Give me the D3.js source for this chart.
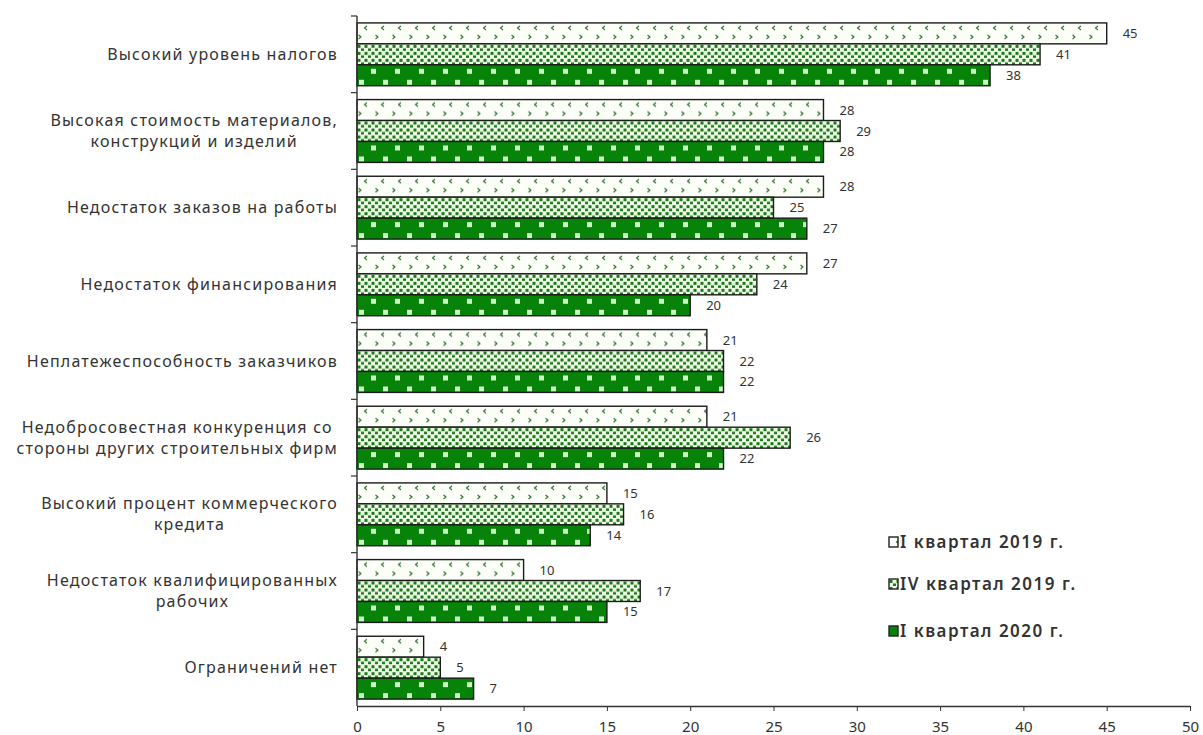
<!DOCTYPE html>
<html>
<head>
<meta charset="utf-8">
<script src="https://cdn.jsdelivr.net/npm/d3@7"></script>
<style>
  html, body { margin: 0; padding: 0; background: #ffffff; }
  svg { display: block; }
  text { font-family: "Noto Sans", "Open Sans", sans-serif; fill: #333; }
</style>
</head>
<body>
<svg id="chart" width="1203" height="735"></svg>
<script>
// Constraints on construction activity, share of firms (%)
const categories = [
  ["Высокий уровень налогов"],
  ["Высокая стоимость материалов,", "конструкций и изделий"],
  ["Недостаток заказов на работы"],
  ["Недостаток финансирования"],
  ["Неплатежеспособность заказчиков"],
  ["Недобросовестная конкуренция со", "стороны других строительных фирм"],
  ["Высокий процент коммерческого", "кредита"],
  ["Недостаток квалифицированных", "рабочих"],
  ["Ограничений нет"]
];
const seriesNames = ["I квартал 2019 г.", "IV квартал 2019 г.", "I квартал 2020 г."];
const q1_2019 = [45, 28, 28, 27, 21, 21, 15, 10, 4];
const q4_2019 = [41, 29, 25, 24, 22, 26, 16, 17, 5];
const q1_2020 = [38, 28, 27, 20, 22, 22, 14, 15, 7];
const xTicks = [0, 5, 10, 15, 20, 25, 30, 35, 40, 45, 50];

const series = [q1_2019, q4_2019, q1_2020];

const svg = d3.select("#chart");
const defs = svg.append("defs");

const plot = { left: 357, right: 1190, top: 16, bottom: 706 };

const x = d3.scaleLinear().domain([0, 50]).range([plot.left, plot.right]);
const y = d3.scaleBand().domain(d3.range(categories.length))
  .range([plot.top, plot.bottom]).paddingInner(0).paddingOuter(0);
const ySub = d3.scaleBand().domain(d3.range(series.length))
  .range([0, y.bandwidth()]).paddingOuter(0.33).paddingInner(0);

// pattern builders, one tile origin per bar so marks line up with each bar
function patternLight(id, px, py) {
  const p = defs.append("pattern").attr("id", id)
    .attr("patternUnits", "userSpaceOnUse")
    .attr("x", px).attr("y", py).attr("width", 17).attr("height", 21);
  p.append("rect").attr("width", 17).attr("height", 21).attr("fill", "#fbfff7");
  p.append("path").attr("d", "M10,3 L7.5,5 L10,7").attr("fill", "none")
    .attr("stroke", "#2f6b2f").attr("stroke-width", 1.1);
  p.append("path").attr("d", "M1.5,12 L4,14 L1.5,16").attr("fill", "none")
    .attr("stroke", "#2f6b2f").attr("stroke-width", 1.1);
}
function patternDots(id, px, py) {
  const p = defs.append("pattern").attr("id", id)
    .attr("patternUnits", "userSpaceOnUse")
    .attr("x", px).attr("y", py).attr("width", 7).attr("height", 7);
  p.append("rect").attr("width", 7).attr("height", 7).attr("fill", "#edfae4");
  p.append("rect").attr("x", 0.5).attr("y", 1).attr("width", 3).attr("height", 3).attr("fill", "#1d781d");
  p.append("rect").attr("x", 4).attr("y", 4.5).attr("width", 3).attr("height", 2.5).attr("fill", "#1d781d");
}
function patternDark(id, px, py) {
  const p = defs.append("pattern").attr("id", id)
    .attr("patternUnits", "userSpaceOnUse")
    .attr("x", px).attr("y", py).attr("width", 24).attr("height", 21);
  p.append("rect").attr("width", 24).attr("height", 21).attr("fill", "#07830a");
  p.append("rect").attr("x", 14).attr("y", 4).attr("width", 5).attr("height", 5).attr("fill", "#cdf7c4");
  p.append("rect").attr("x", 2).attr("y", 15).attr("width", 5).attr("height", 5).attr("fill", "#cdf7c4");
}
const patternMakers = [patternLight, patternDots, patternDark];

// bars
const bars = [];
series.forEach((vals, s) => {
  vals.forEach((v, i) => {
    bars.push({ s, i, v });
  });
});

const barG = svg.append("g");
bars.forEach(b => {
  const by = y(b.i) + ySub(b.s);
  const id = `pat-${b.s}-${b.i}`;
  patternMakers[b.s](id, x(0), by);
  barG.append("rect")
    .attr("x", x(0))
    .attr("y", by)
    .attr("width", x(b.v) - x(0))
    .attr("height", ySub.bandwidth())
    .attr("fill", `url(#${id})`)
    .attr("stroke", "#1b1b1b")
    .attr("stroke-width", 1.4);
  barG.append("text")
    .attr("x", x(b.v) + 16)
    .attr("y", by + ySub.bandwidth() / 2)
    .attr("dy", "0.35em")
    .attr("font-size", 13)
    .attr("fill", "#444")
    .text(b.v);
});

// x axis
const xAxis = d3.axisBottom(x).tickValues(xTicks).tickSize(5).tickSizeOuter(0).tickPadding(10);
const gx = svg.append("g").attr("transform", `translate(0,${plot.bottom})`).call(xAxis);
gx.select(".domain").attr("stroke", "#333").attr("stroke-width", 1.4);
gx.selectAll(".tick line").attr("stroke", "#333");
gx.selectAll(".tick text").attr("font-size", 15).attr("fill", "#333")
  .attr("font-family", "\"Noto Sans\", sans-serif");

// y axis: line with ticks at category boundaries
const gy = svg.append("g");
gy.append("line")
  .attr("x1", x(0)).attr("x2", x(0))
  .attr("y1", plot.top).attr("y2", plot.bottom)
  .attr("stroke", "#333").attr("stroke-width", 1.4);
d3.range(categories.length).forEach(k => {
  const ty = plot.top + k * y.step();
  gy.append("line")
    .attr("x1", x(0) - 6).attr("x2", x(0))
    .attr("y1", ty).attr("y2", ty)
    .attr("stroke", "#333").attr("stroke-width", 1.2);
});

// category labels: lines centred on each other, block right-aligned
const labelRight = 338;
const lineH = 21;
categories.forEach((lines, i) => {
  const g = svg.append("g");
  const texts = lines.map(l => g.append("text")
    .attr("font-size", 16)
    .attr("letter-spacing", 1.2)
    .attr("fill", "#333")
    .attr("text-anchor", "middle")
    .text(l));
  const w = d3.max(texts, t => t.node().getComputedTextLength());
  const cx = labelRight - w / 2;
  const cy = y(i) + y.bandwidth() / 2;
  const y0 = cy - (lines.length - 1) * lineH / 2;
  texts.forEach((t, k) => t.attr("x", cx).attr("y", y0 + k * lineH).attr("dy", "0.35em"));
});

// legend
const legendY = [542, 584, 631];
const legend = svg.append("g");
seriesNames.forEach((name, s) => {
  const ly = legendY[s];
  const id = `leg-${s}`;
  patternMakers[s](id, 889, ly - 5);
  legend.append("rect")
    .attr("x", 889).attr("y", ly - 5)
    .attr("width", 9).attr("height", 10)
    .attr("fill", `url(#${id})`)
    .attr("stroke", "#222").attr("stroke-width", 1.4);
  legend.append("text")
    .attr("x", 900).attr("y", ly)
    .attr("dy", "0.36em")
    .attr("font-size", 17)
    .attr("letter-spacing", 1.5)
    .attr("font-weight", 600)
    .attr("fill", "#333")
    .text(name);
});
</script>
</body>
</html>
